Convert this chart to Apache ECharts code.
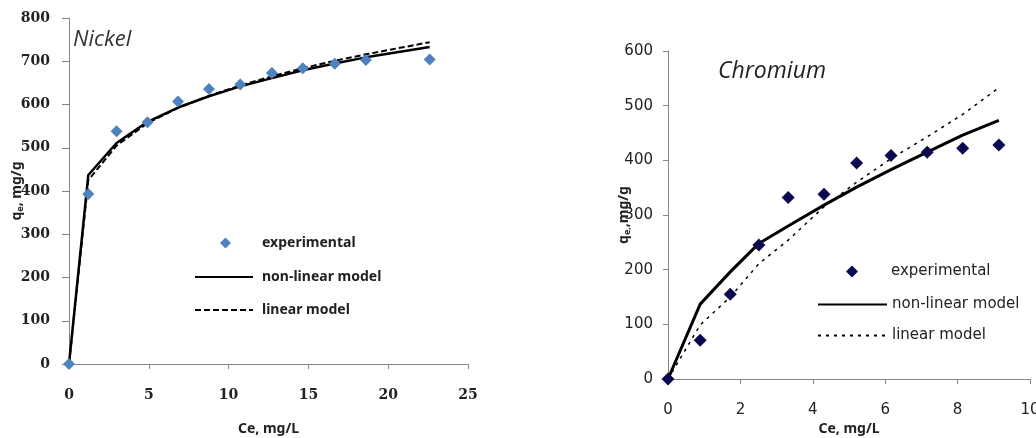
<!DOCTYPE html>
<html>
<head>
<meta charset="utf-8">
<script src="https://cdn.jsdelivr.net/npm/echarts@6/dist/echarts.min.js"></script>
<style>
  html, body { margin: 0; padding: 0; background: #fff; }
  #chart { width: 1036px; height: 438px; }
</style>
</head>
<body>
<div id="chart"></div>
<script>
// Nickel (left panel)
const niCe = [0, 1.21, 2.98, 4.92, 6.83, 8.77, 10.73, 12.71, 14.65, 16.65, 18.6, 22.6];
const niExp = [0, 393, 538, 559, 607, 636, 646, 673, 684, 694, 703, 704];
const niNonLinear = [0, 437, 511, 560, 593, 619, 642, 661, 679, 695, 709, 733];
const niLinear = [0, 425, 505, 557, 592, 620, 644, 665, 684, 701, 716, 744];

// Chromium (right panel)
const crCe = [0, 0.89, 1.72, 2.51, 3.32, 4.31, 5.21, 6.16, 7.16, 8.14, 9.14];
const crExp = [0, 71, 155, 245, 332, 338, 395, 409, 415, 422, 428];
const crNonLinear = [0, 137, 196, 248, 280, 318, 351, 383, 415, 446, 473];
const crLinear = [0, 99, 150, 211, 254, 315, 360, 403, 443, 484, 533];

const legendNames = ["experimental", "non-linear model", "linear model"];

const pairs = (xs, ys) => xs.map((x, i) => [x, ys[i]]);

const chart = echarts.init(document.getElementById("chart"));

const leftLabel = { fontFamily: "DejaVu Serif", fontWeight: "bold", fontSize: 14, color: "#222" };
const rightLabel = { fontFamily: "DejaVu Sans", fontSize: 15, color: "#222" };
const axisGray = { lineStyle: { color: "#868686", width: 1 } };
const leftLegendText = { fontFamily: "Noto Sans", fontWeight: "bold", fontSize: 14, color: "#222" };
const rightLegendText = { fontFamily: "DejaVu Sans", fontSize: 15, color: "#222" };
const hideSymbol = { opacity: 0 };

const subRich = {
  q: { fontFamily: "Noto Sans", fontWeight: "bold", fontSize: 14, color: "#222" },
  s: { fontFamily: "Noto Sans", fontWeight: "bold", fontSize: 9, color: "#222", padding: [6, 0, 0, 0] },
};

chart.setOption({
  animation: false,
  title: [
    { text: "Nickel", left: 73, top: 29, padding: 0, textStyle: { fontFamily: "Open Sans", fontStyle: "italic", fontWeight: "normal", fontSize: 22, color: "#333" } },
    { text: "Chromium", left: 718, top: 60, padding: 0, textStyle: { fontFamily: "Open Sans", fontStyle: "italic", fontWeight: "normal", fontSize: 23, color: "#222" } },
  ],
  legend: [
    {
      data: [legendNames[0]], left: 220, top: 236, padding: 0, itemWidth: 11, itemHeight: 11,
      textStyle: Object.assign({ padding: [0, 0, 0, 26] }, leftLegendText),
    },
    {
      data: [legendNames[1]], left: 194, top: 270, padding: 0, itemWidth: 58, itemHeight: 16,
      itemStyle: hideSymbol, textStyle: Object.assign({ padding: [0, 0, 0, 4] }, leftLegendText),
    },
    {
      data: [legendNames[2]], left: 194, top: 303, padding: 0, itemWidth: 58, itemHeight: 16,
      itemStyle: hideSymbol, textStyle: Object.assign({ padding: [0, 0, 0, 4] }, leftLegendText),
    },
    {
      data: [{ name: legendNames[0] + " " }], left: 846, top: 264, padding: 0, itemWidth: 12, itemHeight: 12,
      textStyle: Object.assign({ padding: [0, 0, 0, 28] }, rightLegendText),
    },
    {
      data: [{ name: legendNames[1] + " " }], left: 817, top: 297, padding: 0, itemWidth: 69, itemHeight: 16,
      itemStyle: hideSymbol, textStyle: rightLegendText,
    },
    {
      data: [{ name: legendNames[2] + " " }], left: 817, top: 328, padding: 0, itemWidth: 67, itemHeight: 16,
      itemStyle: hideSymbol, textStyle: Object.assign({ padding: [0, 0, 0, 2] }, rightLegendText),
    },
  ],
  grid: [
    { left: 69, top: 18, width: 399, height: 346, outerBoundsMode: "none" },
    { left: 668, top: 51, width: 362, height: 328, outerBoundsMode: "none" },
  ],
  xAxis: [
    {
      gridIndex: 0, type: "value", min: 0, max: 25, interval: 5,
      axisLine: axisGray, axisTick: { show: true, length: 5, lineStyle: { color: "#868686" } },
      splitLine: { show: false },
      axisLabel: Object.assign({ margin: 24 }, leftLabel),
      name: "Ce, mg/L", nameLocation: "middle", nameGap: 58, nameMoveOverlap: false,
      nameTextStyle: { fontFamily: "Noto Sans", fontWeight: "bold", fontSize: 14, color: "#222" },
    },
    {
      gridIndex: 1, type: "value", min: 0, max: 10, interval: 2,
      axisLine: axisGray, axisTick: { show: true, length: 5, lineStyle: { color: "#868686" } },
      splitLine: { show: false },
      axisLabel: Object.assign({ margin: 24 }, rightLabel),
      name: "Ce, mg/L", nameLocation: "middle", nameGap: 43, nameMoveOverlap: false,
      nameTextStyle: { fontFamily: "Noto Sans", fontWeight: "bold", fontSize: 14, color: "#222" },
    },
  ],
  yAxis: [
    {
      gridIndex: 0, type: "value", min: 0, max: 800, interval: 100,
      axisLine: { show: true, lineStyle: { color: "#868686", width: 1 } },
      axisTick: { show: true, length: 7, lineStyle: { color: "#868686" } },
      splitLine: { show: false },
      axisLabel: Object.assign({ margin: 19 }, leftLabel),
      name: "{q|q}{s|e}{q|, mg/g}", nameLocation: "middle", nameGap: 44, nameMoveOverlap: false,
      nameTextStyle: { rich: subRich },
    },
    {
      gridIndex: 1, type: "value", min: 0, max: 600, interval: 100,
      axisLine: { show: true, lineStyle: { color: "#868686", width: 1 } },
      axisTick: { show: true, length: 5, lineStyle: { color: "#868686" } },
      splitLine: { show: false },
      axisLabel: Object.assign({ margin: 15 }, rightLabel),
      name: "{q|q}{s|e,}{q|,mg/g}", nameLocation: "middle", nameGap: 36, nameMoveOverlap: false,
      nameTextStyle: { rich: subRich },
    },
  ],
  series: [
    {
      name: legendNames[1], type: "line", xAxisIndex: 0, yAxisIndex: 0,
      data: pairs(niCe, niNonLinear), symbol: "none",
      lineStyle: { color: "#000", width: 2.5 }, itemStyle: { color: "#000" },
    },
    {
      name: legendNames[2], type: "line", xAxisIndex: 0, yAxisIndex: 0,
      data: pairs(niCe, niLinear), symbol: "none",
      lineStyle: { color: "#000", width: 2, type: [6, 3] }, itemStyle: { color: "#000" },
    },
    {
      name: legendNames[0], type: "scatter", xAxisIndex: 0, yAxisIndex: 0,
      data: pairs(niCe, niExp), symbol: "diamond", symbolSize: 12,
      itemStyle: { color: "#4F81BD", opacity: 1 }, z: 5,
    },
    {
      name: legendNames[1] + " ", type: "line", xAxisIndex: 1, yAxisIndex: 1,
      data: pairs(crCe, crNonLinear), symbol: "none",
      lineStyle: { color: "#000", width: 3 }, itemStyle: { color: "#000" },
    },
    {
      name: legendNames[2] + " ", type: "line", xAxisIndex: 1, yAxisIndex: 1,
      data: pairs(crCe, crLinear), symbol: "none",
      lineStyle: { color: "#000", width: 1.5, type: [3, 5] }, itemStyle: { color: "#000" },
    },
    {
      name: legendNames[0] + " ", type: "scatter", xAxisIndex: 1, yAxisIndex: 1,
      data: pairs(crCe, crExp), symbol: "diamond", symbolSize: 13,
      itemStyle: { color: "#0a0a50", opacity: 1 }, z: 5,
    },
  ],
});
</script>
</body>
</html>
